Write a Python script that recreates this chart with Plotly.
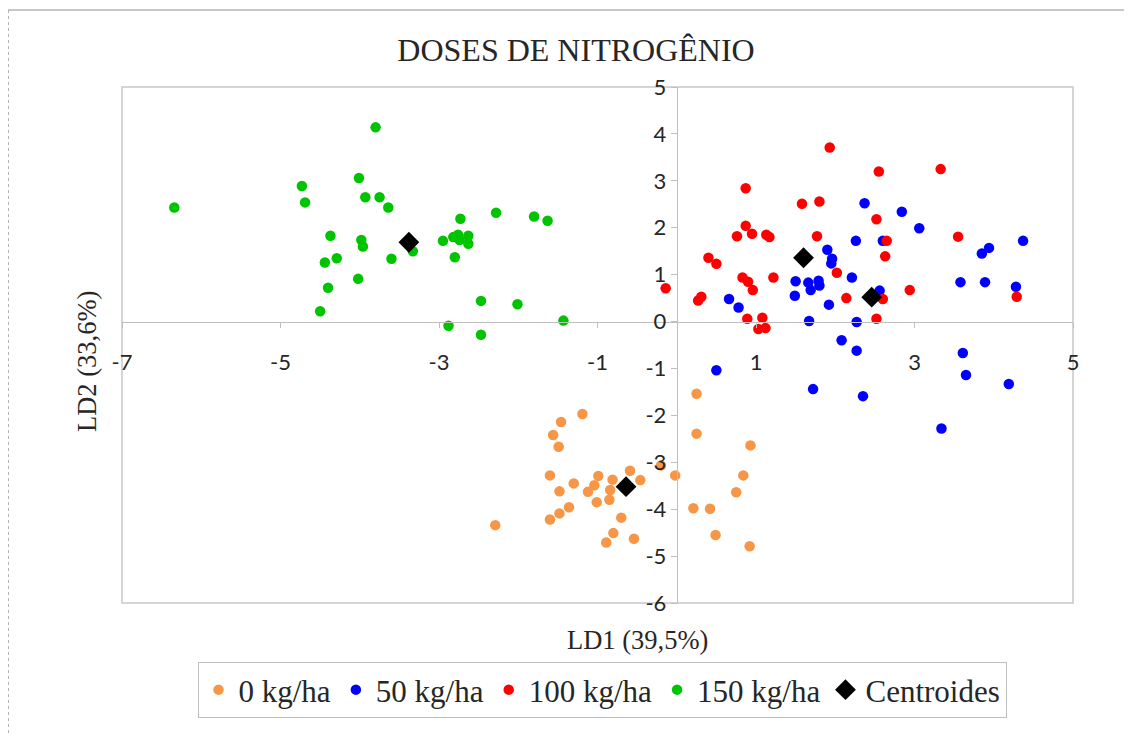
import plotly.graph_objects as go

# ---------------- data ----------------
x_0 = [0.25, 0.25, 0.93, 0.84, 0.75, 0.21, 0.42, 0.49, 0.92, -0.20, -0.02, -0.46, -0.59,
       -0.81, -0.84, -0.85, -0.99, -1.04, -1.12, -1.01, -1.30, -1.19, -1.46, -1.56, -1.49,
       -1.60, -1.48, -1.36, -1.48, -1.60, -0.70, -0.80, -0.89, -0.54, -2.29]
y_0 = [-1.54, -2.39, -2.64, -3.28, -3.64, -3.98, -3.99, -4.55, -4.79, -3.07, -3.28, -3.38, -3.18,
       -3.37, -3.59, -3.80, -3.29, -3.49, -3.63, -3.85, -3.45, -1.97, -2.14, -2.42, -2.67,
       -3.28, -3.62, -3.96, -4.09, -4.22, -4.18, -4.51, -4.71, -4.63, -4.34]

x_50 = [2.37, 2.84, 3.06, 2.26, 2.60, 4.37, 3.85, 3.94, 1.90, 1.96, 1.95, 2.21, 1.50, 1.66,
        1.79, 1.80, 1.69, 1.49, 1.92, 3.58, 3.89, 4.28, 0.66, 0.78, 2.56, 1.67, 2.27, 2.08,
        2.27, 3.61, 3.65, 4.19, 0.50, 1.72, 2.35, 3.34]
y_50 = [2.52, 2.34, 1.99, 1.72, 1.72, 1.72, 1.45, 1.57, 1.53, 1.34, 1.24, 0.94, 0.86, 0.83,
        0.87, 0.77, 0.67, 0.55, 0.36, 0.84, 0.84, 0.74, 0.48, 0.30, 0.66, 0.01, -0.01, -0.40,
        -0.62, -0.67, -1.14, -1.33, -1.04, -1.44, -1.59, -2.28]

x_100 = [-0.14, 1.93, 2.55, 3.33, 0.87, 1.58, 1.80, 2.52, 0.87, 0.95, 0.76, 1.13, 1.17, 1.77,
         2.65, 2.63, 3.55, 0.40, 0.50, 0.83, 0.90, 0.96, 1.22, 2.02, 0.27, 0.31, 2.14, 2.60,
         2.94, 4.29, 0.89, 1.08, 1.03, 1.12, 2.52]
y_100 = [0.71, 3.71, 3.20, 3.25, 2.84, 2.51, 2.56, 2.18, 2.04, 1.87, 1.82, 1.85, 1.80, 1.82,
         1.72, 1.39, 1.81, 1.36, 1.23, 0.94, 0.85, 0.67, 0.94, 1.04, 0.45, 0.53, 0.50, 0.48,
         0.67, 0.53, 0.06, 0.08, -0.16, -0.14, 0.06]

x_150 = [-6.34, -3.80, -4.73, -4.69, -4.01, -3.93, -3.75, -3.64, -4.37, -3.98, -3.96, -4.29,
         -4.44, -3.60, -3.33, -4.02, -4.40, -4.50, -2.95, -2.88, -2.73, -2.28, -1.80, -1.63,
         -2.82, -2.76, -2.74, -2.63, -2.63, -2.80, -2.47, -2.01, -1.43, -2.47]
y_150 = [2.43, 4.14, 2.89, 2.54, 3.06, 2.65, 2.65, 2.43, 1.83, 1.74, 1.60, 1.35,
         1.26, 1.34, 1.50, 0.91, 0.72, 0.22, 1.72, -0.09, 2.19, 2.32, 2.24, 2.15,
         1.80, 1.85, 1.74, 1.83, 1.66, 1.37, 0.44, 0.37, 0.02, -0.28]

x_cent = [-0.64, 2.46, 1.60, -3.38]
y_cent = [-3.52, 0.52, 1.36, 1.69]

series_names = ["0 kg/ha", "50 kg/ha", "100 kg/ha", "150 kg/ha"]
series_colors = ["#F79646", "#0000FF", "#FF0000", "#00C400"]

x_ticks = [-7, -5, -3, -1, 1, 3, 5]
y_ticks = [-6, -5, -4, -3, -2, -1, 0, 1, 2, 3, 4, 5]

# ---------------- figure ----------------
# the page body has an 8 px margin, so figure coords = page coords - 8
OFF = 8
W, H = 1132 - OFF, 733 - OFF
L, R, T, B = 122 - OFF, 1073 - OFF, 87 - OFF, 603 - OFF
PW, PH = R - L, B - T


def px_x(px):  # page pixel -> paper x
    return (px - OFF - L) / PW


def px_y(py):  # page pixel -> paper y
    return (B - (py - OFF)) / PH


fig = go.Figure()
for xs, ys, name, col in zip([x_0, x_50, x_100, x_150], [y_0, y_50, y_100, y_150],
                             series_names, series_colors):
    fig.add_trace(go.Scatter(x=xs, y=ys, mode="markers", name=name,
                             marker=dict(color=col, size=10.5, line=dict(width=0))))
fig.add_trace(go.Scatter(x=x_cent, y=y_cent, mode="markers", name="Centroides",
                         marker=dict(color="black", symbol="diamond", size=16,
                                     line=dict(width=0))))

axis_col = "#BFBFBF"
tick_font = dict(family="Lato, Carlito, sans-serif", size=22, color="#262626")
serif = "Liberation Serif, Times New Roman, serif"

fig.update_layout(
    width=W, height=H,
    margin=dict(l=L, r=W - R, t=T, b=H - B, autoexpand=False),
    paper_bgcolor="white", plot_bgcolor="white",
    showlegend=True,
    title=dict(text="DOSES DE NITROGÊNIO", x=(576 - OFF) / W, xanchor="center",
               y=1 - (50 - OFF) / H, yanchor="middle", xref="container", yref="container",
               font=dict(family=serif, size=32, color="#262626")),
    xaxis=dict(range=[-7, 5], tickmode="array", tickvals=x_ticks,
               ticktext=[str(v) for v in x_ticks],
               showgrid=False, zeroline=False, showline=True, linecolor=axis_col,
               linewidth=1, ticks="outside", ticklen=5, tickcolor=axis_col,
               anchor="free", position=6 / 11, tickfont=tick_font,
               ticklabelstandoff=16, automargin=False, fixedrange=True),
    yaxis=dict(range=[-6, 5], tickmode="array", tickvals=y_ticks,
               ticktext=[str(v) for v in y_ticks],
               showgrid=False, zeroline=False, showline=True, linecolor=axis_col,
               linewidth=1, ticks="outside", ticklen=6, tickcolor=axis_col,
               anchor="free", position=7 / 12, tickfont=tick_font,
               automargin=False, fixedrange=True),
    legend=dict(orientation="h", x=px_x(602), xanchor="center", y=px_y(662),
                yanchor="top", bordercolor=axis_col, borderwidth=1,
                font=dict(family=serif, size=31, color="#262626"),
                itemwidth=30, tracegroupgap=0),
)

# axis titles
fig.add_annotation(text="LD1 (39,5%)", xref="paper", yref="paper",
                   x=px_x(637), y=px_y(640), showarrow=False,
                   xanchor="center", yanchor="middle",
                   font=dict(family=serif, size=26.5, color="#262626"))
fig.add_annotation(text="LD2 (33,6%)", xref="paper", yref="paper",
                   x=px_x(87), y=px_y(362), showarrow=False, textangle=-90,
                   xanchor="center", yanchor="middle",
                   font=dict(family=serif, size=26.5, color="#262626"))

# plot-area border and outer frame
fig.add_shape(type="rect", xref="paper", yref="paper", x0=0, x1=1, y0=0, y1=1,
              line=dict(color="#C8C8C8", width=1.5), layer="below")
fig.add_shape(type="line", xref="paper", yref="paper", x0=px_x(8), x1=px_x(1132),
              y0=px_y(10), y1=px_y(10), line=dict(color="#B4B4B4", width=1.5))
fig.add_shape(type="line", xref="paper", yref="paper", x0=px_x(8.5), x1=px_x(8.5),
              y0=px_y(10), y1=px_y(733), line=dict(color="#B4B4B4", width=1, dash="dot"))

fig.write_html("out.html")
